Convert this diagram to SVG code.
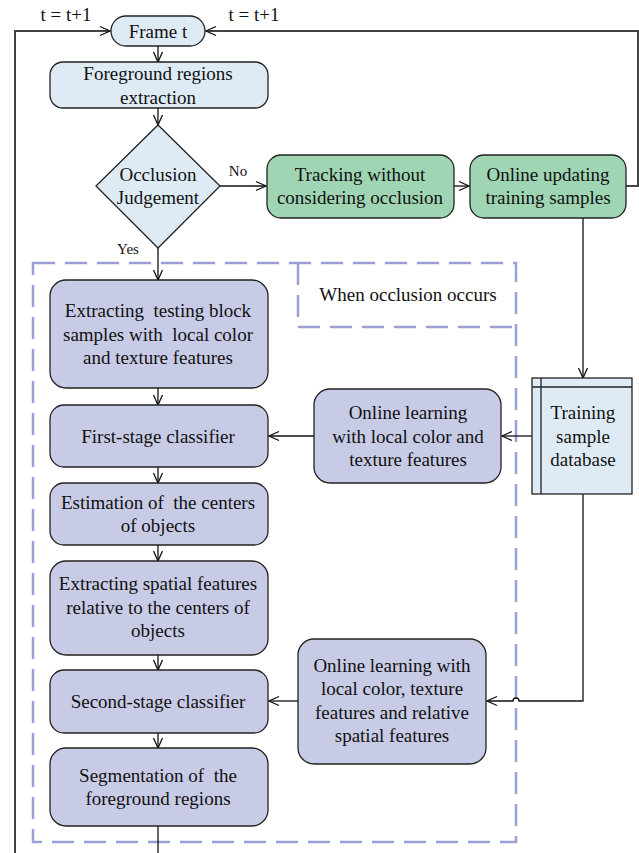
<svg xmlns="http://www.w3.org/2000/svg" width="639" height="853" viewBox="0 0 639 853">
<style>
text{font-family:"Liberation Serif","Times New Roman",serif;font-size:19px;fill:#111;text-anchor:middle;white-space:pre}
.s{font-size:15px}
.t{font-size:19px}
.blue{fill:#deebf5;stroke:#222;stroke-width:1.3}
.green{fill:#9fd5b3;stroke:#222;stroke-width:1.3}
.purple{fill:#c8cbe6;stroke:#222;stroke-width:1.3}
.c{fill:none;stroke:#111;stroke-width:1.3}
.loop{fill:none;stroke:#444;stroke-width:2}
.dash{fill:none;stroke:#9aa0d6;stroke-width:2.5;stroke-dasharray:22 10}
</style>
<defs>
<marker id="a" viewBox="0 0 12 12" refX="11" refY="6" markerWidth="12" markerHeight="12" markerUnits="userSpaceOnUse" orient="auto">
<path d="M1,1.5 L11,6 L1,10.5" fill="none" stroke="#111" stroke-width="1.3"/>
</marker>
</defs>
<g id="region">
<path class="dash" d="M33,263 H516 V842 H33 Z"/>
<path class="dash" d="M298,263 V327 H516"/>
<text x="408" y="301">When occlusion occurs</text>
</g>
<g id="connectors">
<path class="loop" d="M15,853 V31 H110" marker-end="url(#a)"/>
<path class="loop" d="M626,186 H638 V31 H206" marker-end="url(#a)"/>
<path class="c" d="M158,46 V62" marker-end="url(#a)"/>
<path class="c" d="M158,108 V125" marker-end="url(#a)"/>
<path class="c" d="M220,186 H266" marker-end="url(#a)"/>
<path class="c" d="M454,186 H469" marker-end="url(#a)"/>
<path class="c" d="M583,218 V378" marker-end="url(#a)"/>
<path class="c" d="M158,248 V280" marker-end="url(#a)"/>
<path class="c" d="M158,388 V405" marker-end="url(#a)"/>
<path class="c" d="M158,467 V483" marker-end="url(#a)"/>
<path class="c" d="M158,545 V561" marker-end="url(#a)"/>
<path class="c" d="M158,655 V670" marker-end="url(#a)"/>
<path class="c" d="M158,733 V748" marker-end="url(#a)"/>
<path class="c" d="M158,826 V853"/>
<path class="c" d="M314,436 H269" marker-end="url(#a)"/>
<path class="c" d="M532,436 H502" marker-end="url(#a)"/>
<path class="c" d="M298,701 H269" marker-end="url(#a)"/>
<path class="c" d="M583,494 V701 H519 A3,3 0 0 0 513,701 H487" marker-end="url(#a)"/>
<text class="t" x="66" y="21">t = t+1</text>
<text class="t" x="254" y="21">t = t+1</text>
<text class="s" x="238" y="176">No</text>
<text class="s" x="128" y="254">Yes</text>
</g>
<g id="frame">
<rect class="blue" x="111" y="16" width="94" height="30" rx="15"/>
<text x="158" y="38">Frame t</text>
</g>
<g id="foreground">
<rect class="blue" x="50" y="62" width="218" height="46" rx="13"/>
<text x="158" y="80">Foreground regions</text>
<text x="158" y="104">extraction</text>
</g>
<g id="judgement">
<path class="blue" d="M158,125 L220,186 L158,248 L96,186 Z"/>
<text x="158" y="181">Occlusion</text>
<text x="158" y="204">Judgement</text>
</g>
<g id="tracking">
<rect class="green" x="267" y="155" width="187" height="63" rx="14"/>
<text x="360" y="181">Tracking without</text>
<text x="360" y="204">considering occlusion</text>
</g>
<g id="updating">
<rect class="green" x="470" y="155" width="156" height="63" rx="14"/>
<text x="548" y="181">Online updating</text>
<text x="548" y="204">training samples</text>
</g>
<g id="extracting">
<rect class="purple" x="50" y="280" width="218" height="108" rx="16"/>
<text x="158" y="317">Extracting  testing block</text>
<text x="158" y="341">samples with  local color</text>
<text x="158" y="364">and texture features</text>
</g>
<g id="first">
<rect class="purple" x="50" y="405" width="218" height="62" rx="14"/>
<text x="158" y="443">First-stage classifier</text>
</g>
<g id="estimation">
<rect class="purple" x="50" y="483" width="218" height="62" rx="14"/>
<text x="158" y="509">Estimation of  the centers</text>
<text x="158" y="532">of objects</text>
</g>
<g id="spatial">
<rect class="purple" x="50" y="561" width="218" height="94" rx="16"/>
<text x="158" y="590">Extracting spatial features</text>
<text x="158" y="614">relative to the centers of</text>
<text x="158" y="637">objects</text>
</g>
<g id="second">
<rect class="purple" x="50" y="670" width="218" height="63" rx="14"/>
<text x="158" y="708">Second-stage classifier</text>
</g>
<g id="segmentation">
<rect class="purple" x="50" y="748" width="218" height="78" rx="16"/>
<text x="158" y="782">Segmentation of  the</text>
<text x="158" y="805">foreground regions</text>
</g>
<g id="learning1">
<rect class="purple" x="314" y="389" width="187" height="94" rx="16"/>
<text x="408" y="419">Online learning</text>
<text x="408" y="443">with local color and</text>
<text x="408" y="466">texture features</text>
</g>
<g id="database">
<rect class="blue" x="532" y="378" width="100" height="116"/>
<path fill="none" stroke="#222" stroke-width="1.3" d="M532,387 H632 M541,378 V494"/>
<text x="583" y="419">Training</text>
<text x="583" y="443">sample</text>
<text x="583" y="466">database</text>
</g>
<g id="learning2">
<rect class="purple" x="298" y="639" width="188" height="125" rx="16"/>
<text x="392" y="672">Online learning with</text>
<text x="392" y="695">local color, texture</text>
<text x="392" y="719">features and relative</text>
<text x="392" y="742">spatial features</text>
</g>
</svg>
